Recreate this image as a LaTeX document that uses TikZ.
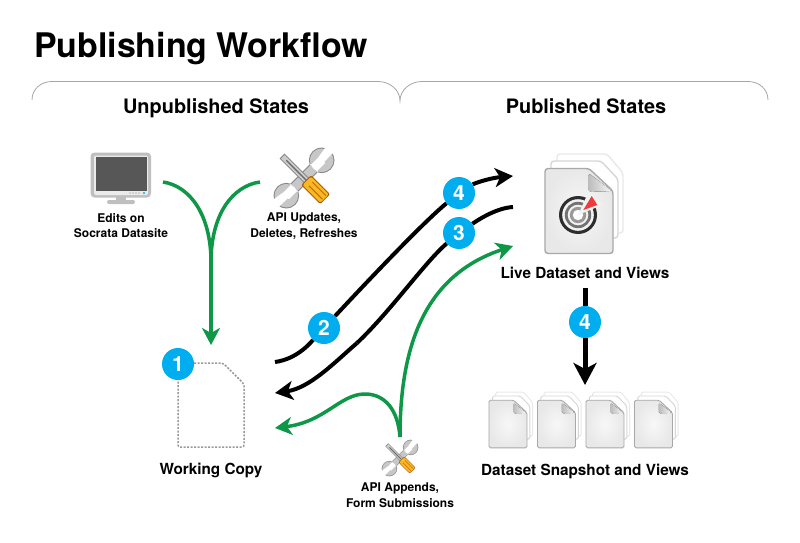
\documentclass[tikz,border=0pt]{standalone}
\usepackage{fontspec}
\setmainfont{TeX Gyre Heros}
\usetikzlibrary{arrows.meta, positioning, backgrounds}

\definecolor{badgeblue}{HTML}{00AEEF}
\definecolor{flowgreen}{HTML}{0E9747}
\definecolor{handleyellow}{HTML}{F6BA25}
\definecolor{targetred}{HTML}{EE3B3B}

\tikzset{
    bigtext/.style={font=\bfseries\fontsize{19.9}{22}\selectfont},
    midtext/.style={font=\bfseries\fontsize{15.3}{18}\selectfont},
    smalltext/.style={font=\bfseries\fontsize{12}{15.2}\selectfont, align=center, inner sep=0pt},
    badge/.style={circle, fill=badgeblue, text=white, minimum size=32pt, inner sep=0pt, font=\bfseries\fontsize{21}{21}\selectfont},
    blackflow/.style={line width=4pt, ->, >={Stealth[length=18pt, width=19pt, inset=5pt]}},
    blackplain/.style={line width=4pt},
    greenflow/.style={line width=3.5pt, flowgreen, ->, >={Stealth[length=17pt, width=18pt, inset=5pt]}},
    greenplain/.style={line width=3.5pt, flowgreen},
    bigicon/.style={line width=1.4pt, rounded corners=3pt},
    smallicon/.style={scale=.56, line width=.9pt, rounded corners=1.6pt},
    pics/sheetstack/.style={code={
        \draw[fill=white, draw=black!9] (-22,-57) -- (28,-57) -- (44,-38) -- (44,22) -- (-22,22) -- cycle;
        \draw[fill=white, draw=black!16] (-28,-50) -- (22,-50) -- (39,-32) -- (39,27) -- (-28,27) -- cycle;
        \draw[draw=black!34, inner color=black!3, outer color=black!9] (-34,-42.5) -- (10,-42.5) -- (34,-20) -- (34,42.5) -- (-34,42.5) -- cycle;
        \fill[left color=black!26, right color=black!3] (9.5,-38) -- (9.5,-19) -- (33,-20) -- cycle;
    }},
    pics/target/.style={code={
        \fill[black!82] (0,0) circle (19);
        \fill[black!5] (0,0) circle (15.8);
        \fill[black!55] (0,0) circle (13.2);
        \fill[black!5] (0,0) circle (10.3);
        \fill[black!40] (0,0) circle (8.2);
        \fill[white] (0,0) circle (5.2);
        \fill[black!5] (0,0) -- (11,-24) -- (24,-10) -- cycle;
        \fill[targetred] (13.7,-19) -- (19.3,-10) -- (5.3,-5) -- cycle;
    }},
    pics/monitor/.style={code={
        \fill[black!25] (-5,20) rectangle (5,27);
        \fill[black!25, rounded corners=2pt] (-14,25) rectangle (14,29);
        \fill[black!25, rounded corners=4pt] (-30.5,-22.5) rectangle (30,22.5);
        \fill[black!8, rounded corners=2pt] (-27,-19.5) rectangle (27,20);
        \fill[black!66] (-25.5,-18) rectangle (25.5,15.5);
        \foreach \dotx in {9,12,15,18}
            \fill[black!50] (\dotx,18) circle (.6);
        \fill[badgeblue] (23,18) circle (1.2);
    }},
    pics/tools/.style={code={
        % wrench
        \begin{scope}[rotate=45]
            \fill[black!48] (-26,-5.5) rectangle (26,5.5) (-25,0) circle (12.8) (25,0) circle (12.8);
            \fill[black!22] (-26,-4.5) rectangle (26,4.5) (-25,0) circle (11.8) (25,0) circle (11.8);
            \fill[white] (25,-4.5) -- (40,-7) -- (40,2.5) -- (25,3) -- cycle;
            \fill[white] (-25,-4.5) -- (-40,-7) -- (-40,2.5) -- (-25,3) -- cycle;
        \end{scope}
        % screwdriver
        \begin{scope}[rotate=-45]
            \fill[black!50] (-31,-3.5) rectangle (6,3.5);
            \fill[black!20] (-30,-2.5) rectangle (6,2.5);
            \fill[black!60] (-25,-.7) rectangle (6,.7);
            \fill[orange!70!black, rounded corners=2pt] (3,-7) rectangle (30,7);
            \fill[handleyellow, rounded corners=2pt] (4,-6) rectangle (29,6);
            \fill[orange!80!black] (9,-3.5) rectangle (28,-2.5) (9,1.5) rectangle (28,2.5);
        \end{scope}
    }},
}

\begin{document}
\begin{tikzpicture}[x=1pt, y=-1pt]

    \useasboundingbox (0,0) rectangle (800,543);

    \node[anchor=base west, inner sep=0pt, font=\bfseries\fontsize{33.9}{36}\selectfont] (title) at (34,57) {Publishing Workflow};

    % state brackets
    \draw[black!35, line width=.8pt] (32,100) .. controls (32,89) and (41,81.5) .. (52,81.5) -- (378,81.5) .. controls (390,81.5) and (400,90) .. (400,101) .. controls (400,90) and (410,81.5) .. (422,81.5) -- (748,81.5) .. controls (759,81.5) and (768,89) .. (768,100);
    \node[bigtext, anchor=base] (unpublished) at (216,113) {Unpublished States};
    \node[bigtext, anchor=base] (published) at (586,113) {Published States};

    % anchors of the icons
    \coordinate (monitor) at (121,175);
    \coordinate (tools) at (304,178);
    \coordinate (livestack) at (579,211);
    \coordinate (appendtools) at (400,458);
    \coordinate (snap1) at (508,424);
    \coordinate (snap2) at (556.5,424);
    \coordinate (snap3) at (605,424);
    \coordinate (snap4) at (653.5,424);

    \pic at (monitor) {monitor};
    \pic at (tools) {tools};
    \pic[scale=.6] at (appendtools) {tools};
    \pic[bigicon] at (livestack) {sheetstack};
    \pic at (578,215) {target};
    \foreach \snap in {snap1, snap2, snap3, snap4}
        \pic[smallicon] at (\snap) {sheetstack};

    % working copy outline
    \draw[black!40, line width=1.5pt, dash pattern=on 2pt off 1.5pt, rounded corners=2pt] (178,363) -- (223,363) -- (244,384) -- (244,447) -- (178,447) -- cycle;

    % labels
    \node[smalltext, below=38pt of monitor] (editslabel) {Edits on\\Socrata Datasite};
    \node[smalltext, below=35pt of tools] (toolslabel) {API Updates,\\Deletes, Refreshes};
    \node[smalltext, below=25pt of appendtools] (appendlabel) {API Appends,\\Form Submissions};
    \node[midtext, anchor=base] (livelabel) at (585,278) {Live Dataset and Views};
    \node[midtext, anchor=base] (snaplabel) at (585,475) {Dataset Snapshot and Views};
    \node[midtext, anchor=base] (worklabel) at (211,474) {Working Copy};

    % badges
    \node[badge] (badge1) at (178,364) {1};
    \node[badge] (badge2) at (324,328) {2};
    \node[badge] (badge3) at (459,233) {3};
    \node[badge] (badge4) at (459,193) {4};
    \node[badge] (badge4low) at (585,322) {4};

    % free ends of the flows
    \coordinate (editsout) at (163,182);
    \coordinate (toolsout) at (260,182);
    \coordinate (join) at (211,262);
    \coordinate (workin) at (211,345);
    \coordinate (workout) at (275,362);
    \coordinate (workback) at (275,393);
    \coordinate (workgreen) at (275,428);
    \coordinate (livein) at (513,176);
    \coordinate (liveout) at (513,207);
    \coordinate (livegreen) at (513,246);
    \coordinate (appendout) at (400,437);
    \coordinate (hump) at (365,394);
    \coordinate (bend) at (357,343);
    \coordinate (snapin) at (585,385);
    \coordinate (liveunder) at (585,288);

    \begin{scope}[on background layer]
        \draw[greenplain] (editsout) .. controls (190,186) and (211,215) .. (join);
        \draw[greenplain] (toolsout) .. controls (232,186) and (211,215) .. (join);
        \draw[greenflow] (join) -- (workin);
        \draw[blackplain] (workout) .. controls (298,359) and (312,341) .. (badge2);
        \draw[blackplain] (badge2) .. controls (350,300) and (420,225) .. (badge4);
        \draw[blackflow] (badge4) .. controls (475,183) and (490,178) .. (livein);
        \draw[blackplain] (liveout) .. controls (495,208) and (475,222) .. (badge3);
        \draw[blackplain] (badge3) .. controls (425,262) and (390,312) .. (bend);
        \draw[blackflow] (bend) .. controls (335,362) and (310,388) .. (workback);
        \draw[greenflow] (appendout) .. controls (400,345) and (425,275) .. (livegreen);
        \draw[greenplain] (appendout) .. controls (398,410) and (385,394) .. (hump);
        \draw[greenflow] (hump) .. controls (340,394) and (325,422) .. (workgreen);
        \draw[line width=5pt, ->, >={Stealth[length=22pt, width=23pt, inset=6pt]}] (liveunder) -- (badge4low) -- (snapin);
    \end{scope}

\end{tikzpicture}
\end{document}
